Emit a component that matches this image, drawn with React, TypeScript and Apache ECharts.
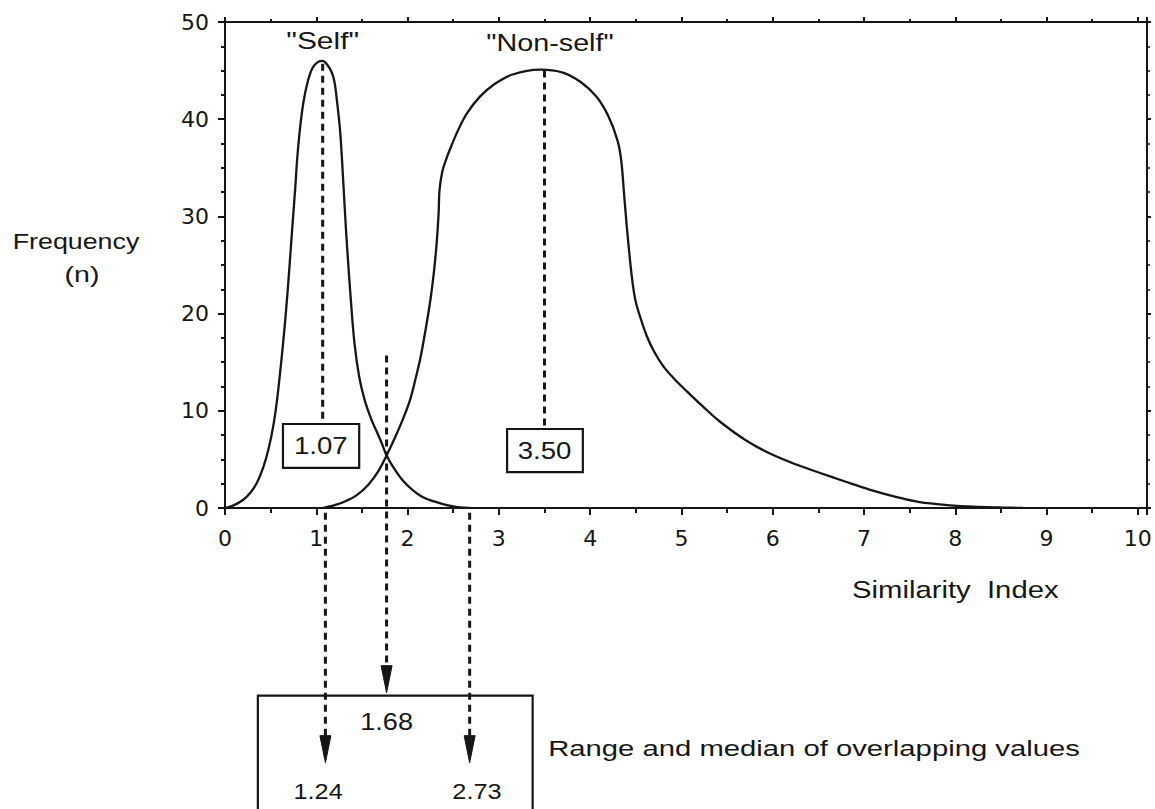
import React, { useEffect, useRef } from "react";
import * as echarts from "echarts";

// ---------- data ----------
const selfCurve: [number, number][] = [
  [0, 0], [0.1, 0.3], [0.2, 0.85], [0.28, 1.6], [0.35, 2.6], [0.42, 4.2], [0.48, 6.2],
  [0.53, 8.5], [0.57, 11.1], [0.61, 14.5], [0.65, 18.3], [0.68, 21.6], [0.71, 25.3],
  [0.74, 29.2], [0.77, 33.0], [0.79, 35.8], [0.82, 38.9], [0.86, 41.8], [0.91, 44],
  [0.96, 45.3], [1.02, 45.9], [1.07, 46], [1.12, 45.6], [1.17, 44.8], [1.2, 43.8],
  [1.23, 41.6], [1.26, 38.9], [1.28, 36.1], [1.3, 32.8], [1.32, 29.5], [1.34, 26.5],
  [1.38, 21.2], [1.42, 16.8], [1.47, 13.5], [1.53, 11.1], [1.6, 9.2], [1.66, 7.9],
  [1.72, 6.6], [1.77, 5.4], [1.85, 4.1], [1.95, 2.8], [2.05, 1.9], [2.17, 1.1],
  [2.3, 0.65], [2.43, 0.3], [2.55, 0.1], [2.68, 0],
];

const nonSelfCurve: [number, number][] = [
  [1.07, 0], [1.2, 0.3], [1.32, 0.7], [1.44, 1.3], [1.57, 2.4], [1.68, 3.8], [1.77, 5.4],
  [1.87, 7.4], [1.96, 9.4], [2.03, 11.2], [2.09, 13.4], [2.14, 15.4], [2.2, 18.5],
  [2.25, 21.4], [2.29, 24.4], [2.32, 27.4], [2.34, 30.3], [2.35, 32.7], [2.38, 34.6],
  [2.42, 35.8], [2.46, 36.8], [2.55, 38.8], [2.65, 40.6], [2.79, 42.3], [2.95, 43.6],
  [3.15, 44.6], [3.45, 45.1], [3.7, 44.8], [3.9, 43.8], [4.07, 42.3], [4.2, 40.3],
  [4.3, 37.8], [4.34, 35.8], [4.37, 32.5], [4.4, 29.1], [4.44, 25.2], [4.47, 22.8],
  [4.5, 21.2], [4.55, 19.6], [4.62, 17.7], [4.7, 16.1], [4.8, 14.6], [4.92, 13.3],
  [5.06, 12.0], [5.24, 10.4], [5.42, 8.9], [5.7, 7.0], [5.97, 5.6], [6.25, 4.5],
  [6.52, 3.6], [6.8, 2.7], [7.06, 1.9], [7.37, 1.1], [7.61, 0.6], [7.94, 0.28],
  [8.2, 0.13], [8.5, 0.05], [8.74, 0],
];

const xTickMin = 0;
const xTickMax = 10;
const yTickMin = 0;
const yTickMax = 50;

const curveLabels = ['"Self"', '"Non-self"'];
const selfMedian = 1.07;
const nonSelfMedian = 3.5;
const overlapLow = 1.24;
const overlapMedian = 1.68;
const overlapHigh = 2.73;

// where the arrows were drawn (x in data units)
const arrowLowX = 1.1;
const arrowMedianX = 1.77;
const arrowHighX = 2.68;

const ink = "#161616";
const sans = "'Liberation Sans', Arial, sans-serif";
const wide = "'DejaVu Sans', sans-serif";

export default function App() {
  const ref = useRef<HTMLDivElement>(null);

  useEffect(() => {
    if (!ref.current) return;
    const chart = echarts.init(ref.current, undefined, { renderer: "svg" });

    const axisLine = { show: true, onZero: false, lineStyle: { color: ink, width: 2 } };
    const baseX = {
      type: "value" as const,
      min: xTickMin,
      max: xTickMax + 0.1,
      interval: 1,
      axisLine,
      splitLine: { show: false },
      minorSplitLine: { show: false },
    };
    const baseY = {
      type: "value" as const,
      min: yTickMin,
      max: yTickMax,
      interval: 10,
      axisLine,
      splitLine: { show: false },
      minorSplitLine: { show: false },
    };

    const option: any = {
      animation: false,
      backgroundColor: "#ffffff",
      grid: { left: 225, top: 22, width: 922, height: 486, containLabel: false, outerBoundsMode: "none" },
      xAxis: [
        {
          ...baseX,
          position: "bottom",
          axisTick: { show: true, length: 7, lineStyle: { color: ink, width: 2 } },
          minorTick: { show: true, splitNumber: 2, length: 5, lineStyle: { color: ink, width: 2 } },
          axisLabel: {
            show: true,
            fontSize: 22,
            fontFamily: wide,
            color: ink,
            margin: 19,
            hideOverlap: false,
            formatter: (v: number) => (v > xTickMax ? "" : String(v)),
          },
        },
        {
          ...baseX,
          position: "top",
          axisTick: { show: true, length: 5, lineStyle: { color: ink, width: 2 } },
          minorTick: { show: true, splitNumber: 2, length: 3, lineStyle: { color: ink, width: 2 } },
          axisLabel: { show: false },
        },
      ],
      yAxis: [
        {
          ...baseY,
          position: "left",
          axisTick: { show: true, length: 7, lineStyle: { color: ink, width: 2 } },
          minorTick: { show: true, splitNumber: 4, length: 4, lineStyle: { color: ink, width: 2 } },
          axisLabel: { show: true, fontSize: 22, fontFamily: wide, color: ink, margin: 16 },
        },
        {
          ...baseY,
          position: "right",
          axisTick: { show: true, length: 4, lineStyle: { color: ink, width: 2 } },
          minorTick: { show: true, splitNumber: 4, length: 3, lineStyle: { color: ink, width: 1.5 } },
          axisLabel: { show: false },
        },
      ],
      series: [
        {
          name: "Self",
          type: "line",
          xAxisIndex: 0,
          yAxisIndex: 0,
          data: selfCurve,
          showSymbol: false,
          symbol: "none",
          smooth: 0.35,
          lineStyle: { color: ink, width: 2.3 },
        },
        {
          name: "Non-self",
          type: "line",
          xAxisIndex: 0,
          yAxisIndex: 0,
          data: nonSelfCurve,
          showSymbol: false,
          symbol: "none",
          smooth: 0.35,
          lineStyle: { color: ink, width: 2.3 },
        },
      ],
    };

    chart.setOption(option);

    const px = (x: number, y: number) =>
      chart.convertToPixel({ xAxisIndex: 0, yAxisIndex: 0 } as any, [x, y]) as number[];

    const dash = { stroke: ink, lineWidth: 3, lineDash: [7, 5], fill: "none" };

    const vline = (x: number, y1: number, y2: number) => {
      const a = px(x, y1);
      const b = px(x, y2);
      return { type: "line", z: 100, shape: { x1: a[0], y1: a[1], x2: b[0], y2: b[1] }, style: dash };
    };
    const arrow = (x: number, tipY: number) => {
      const t = px(x, tipY);
      return {
        type: "polygon",
        z: 101,
        shape: { points: [[t[0] - 5.5, t[1] - 27], [t[0] + 5.5, t[1] - 27], [t[0], t[1]]] },
        style: { fill: ink, stroke: ink, lineWidth: 1 },
      };
    };
    const box = (x1: number, y1: number, x2: number, y2: number) => {
      const a = px(x1, y1);
      const b = px(x2, y2);
      return {
        type: "rect",
        z: 99,
        shape: { x: a[0], y: a[1], width: b[0] - a[0], height: b[1] - a[1] },
        style: { fill: "#ffffff", stroke: ink, lineWidth: 2.2 },
      };
    };
    const label = (
      text: string,
      x: number,
      y: number,
      size: number,
      scaleX: number,
      align: string = "center",
      abs = false
    ) => {
      const p = abs ? [x, y] : px(x, y);
      return {
        type: "text",
        z: 102,
        x: p[0],
        y: p[1],
        scaleX,
        style: {
          text,
          fontSize: size,
          fontFamily: sans,
          fill: ink,
          align,
          verticalAlign: "middle",
          textAlign: align,
          textVerticalAlign: "middle",
        },
      };
    };

    const graphic: any[] = [
      // median lines of each curve
      vline(selfMedian, 45.7, 8.64),
      vline(nonSelfMedian, 45.0, 8.13),
      box(0.635, 8.64, 1.47, 4.12),
      box(3.09, 8.13, 3.92, 3.7),
      label(selfMedian.toFixed(2), 1.05, 6.4, 23, 1.2),
      label(nonSelfMedian.toFixed(2), 3.5, 5.9, 23, 1.2),
      label(curveLabels[0], 1.07, 48.0, 23, 1.3),
      label(curveLabels[1], 3.56, 47.8, 23, 1.25),
      // overlap box below the chart
      box(0.36, -19.3, 3.37, -33),
      vline(arrowLowX, -0.5, -24),
      arrow(arrowLowX, -26.2),
      vline(arrowMedianX, 15.7, -17),
      arrow(arrowMedianX, -19.0),
      vline(arrowHighX, -0.5, -24),
      arrow(arrowHighX, -26.2),
      label(overlapMedian.toFixed(2), 1.77, -22.0, 23, 1.18),
      label(overlapLow.toFixed(2), 1.02, -29.2, 22, 1.15),
      label(overlapHigh.toFixed(2), 2.76, -29.2, 22, 1.15),
      label("Range and median of overlapping values", 3.54, -24.7, 22, 1.33, "left"),
      // axis titles
      label("Similarity  Index", 8.0, -8.4, 24, 1.22),
      label("Frequency", 76, 241, 22, 1.22, "center", true),
      label("(n)", 82, 274, 22, 1.3, "center", true),
    ];

    chart.setOption({ graphic });

    return () => chart.dispose();
  }, []);

  return (
    <div
      ref={ref}
      style={{ position: "fixed", left: 0, top: 0, width: 1155, height: 809, background: "#fff" }}
    />
  );
}
